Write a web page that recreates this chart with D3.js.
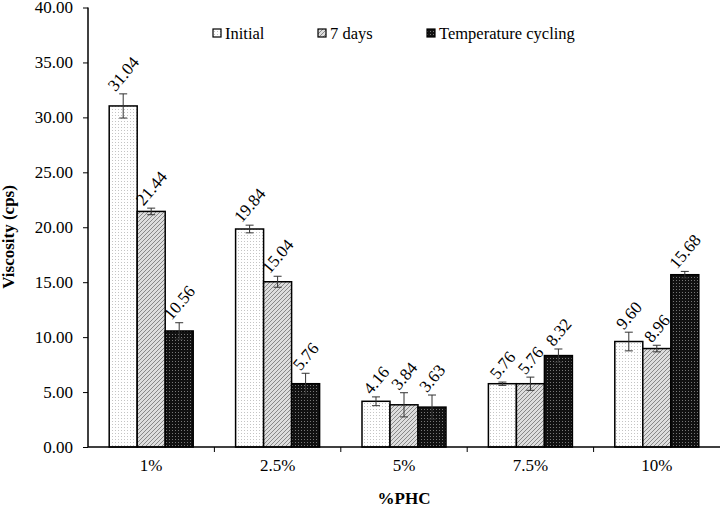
<!DOCTYPE html>
<html><head><meta charset="utf-8">
<script src="https://cdn.jsdelivr.net/npm/d3@7"></script>
<style>
body{margin:0;background:#fff;}
svg{display:block;}
</style></head>
<body><svg id="c" width="722" height="507"></svg>
<script>
const categories = ["1%", "2.5%", "5%", "7.5%", "10%"];
const seriesNames = ["Initial", "7 days", "Temperature cycling"];
const initialVals = [31.04, 19.84, 4.16, 5.76, 9.60];
const sevenDayVals = [21.44, 15.04, 3.84, 5.76, 8.96];
const tempCycVals = [10.56, 5.76, 3.63, 8.32, 15.68];
const initialErr = [1.1, 0.35, 0.4, 0.15, 0.85];
const sevenDayErr = [0.3, 0.5, 1.1, 0.6, 0.3];
const tempCycErr = [0.75, 0.95, 1.1, 0.6, 0.3];
const yTicks = [0, 5, 10, 15, 20, 25, 30, 35, 40];

const FONT = "Liberation Serif";
const svg = d3.select("#c").attr("font-family", FONT);
const m = {l: 88, r: 720, t: 7.5, b: 447};
const defs = svg.append("defs");
const p1 = defs.append("pattern").attr("id","pInit").attr("patternUnits","userSpaceOnUse").attr("width",3).attr("height",3);
p1.append("rect").attr("width",3).attr("height",3).attr("fill","#fff");
p1.append("rect").attr("x",1).attr("y",1).attr("width",1).attr("height",1).attr("fill","#c4c4c4");
const p2 = defs.append("pattern").attr("id","p7").attr("patternUnits","userSpaceOnUse").attr("width",4).attr("height",4);
p2.append("rect").attr("width",4).attr("height",4).attr("fill","#ddd");
p2.append("path").attr("d","M-1,1 l2,-2 M0,4 l4,-4 M3,5 l2,-2").attr("stroke","#888").attr("stroke-width",1);
const p3 = defs.append("pattern").attr("id","pTC").attr("patternUnits","userSpaceOnUse").attr("width",3).attr("height",3);
p3.append("rect").attr("width",3).attr("height",3).attr("fill","#111");
p3.append("rect").attr("x",1).attr("y",1).attr("width",1).attr("height",1).attr("fill","#777");
const fills = ["url(#pInit)","url(#p7)","url(#pTC)"];

const x = d3.scaleBand().domain(categories).range([m.l, m.r]).paddingInner(0).paddingOuter(0);
const xs = d3.scaleBand().domain(seriesNames).range([0, x.bandwidth()]).paddingInner(0).paddingOuter(0.757);
const y = d3.scaleLinear().domain([0, 40]).range([m.b, m.t]);

const vals = [initialVals, sevenDayVals, tempCycVals];
const errs = [initialErr, sevenDayErr, tempCycErr];
const data = [];
categories.forEach((c, i) => seriesNames.forEach((s, j) => data.push({c, s, j, v: vals[j][i], e: errs[j][i]})));

svg.append("g").selectAll("rect").data(data).join("rect")
  .attr("x", d => x(d.c) + xs(d.s))
  .attr("y", d => y(d.v))
  .attr("width", xs.bandwidth())
  .attr("height", d => y(0) - y(d.v))
  .attr("fill", d => fills[d.j])
  .attr("stroke", "#000").attr("stroke-width", 1.5);

const eg = svg.append("g").attr("stroke", "#333").attr("stroke-width", 1);
data.forEach(d => {
  const cx = x(d.c) + xs(d.s) + xs.bandwidth() / 2;
  eg.append("line").attr("x1", cx).attr("x2", cx).attr("y1", y(d.v - d.e)).attr("y2", y(d.v + d.e));
  [d.v - d.e, d.v + d.e].forEach(v => eg.append("line").attr("x1", cx - 4).attr("x2", cx + 4).attr("y1", y(v)).attr("y2", y(v)));
});

const ang = 50 * Math.PI / 180;
data.forEach(d => {
  const cx = x(d.c) + xs(d.s) + xs.bandwidth() / 2;
  const t = svg.append("text").attr("font-family", FONT).attr("font-size", 17).attr("text-anchor", "middle").attr("fill", "#000")
    .text(d.v.toFixed(2));
  const len = t.node().getComputedTextLength();
  const h = 11;
  const dy = (len * Math.sin(ang) + h * Math.cos(ang)) / 2 + 2;
  const cy = y(d.v + d.e) - dy;
  t.attr("transform", `translate(${cx},${cy}) rotate(-50)`).attr("dy", "0.35em");
});

const ya = svg.append("g").attr("transform", `translate(${m.l},0)`)
  .call(d3.axisLeft(y).tickValues(yTicks).tickSize(5).tickPadding(10).tickFormat(d3.format(".2f")))
  .attr("font-family", FONT);
ya.select(".domain").attr("stroke", "#000").attr("stroke-width", 1.5).attr("d", `M0,${m.t}V${m.b}`);
ya.selectAll(".tick line").attr("stroke", "#000");
ya.selectAll(".tick text").attr("font-family", FONT).attr("font-size", 17).attr("fill", "#000");

const xa = svg.append("g").attr("transform", `translate(0,${m.b})`)
  .call(d3.axisBottom(x).tickSize(0).tickPadding(12))
  .attr("font-family", FONT);
xa.select(".domain").attr("stroke", "#000").attr("stroke-width", 1.5).attr("d", `M${m.l},0H${m.r}`);
xa.selectAll(".tick text").attr("font-family", FONT).attr("font-size", 17).attr("fill", "#000");
svg.append("g").selectAll("line").data(categories.slice(1)).join("line")
  .attr("x1", d => x(d)).attr("x2", d => x(d)).attr("y1", m.b).attr("y2", m.b + 5).attr("stroke", "#000");

svg.append("text").attr("transform", "translate(14,237) rotate(-90)").attr("text-anchor", "middle")
  .attr("font-family", FONT).attr("font-size", 17).attr("font-weight", "bold").text("Viscosity (cps)");
svg.append("text").attr("x", 404).attr("y", 504).attr("text-anchor", "middle")
  .attr("font-family", FONT).attr("font-size", 17).attr("font-weight", "bold").text("%PHC");

const legX = [213, 318, 427];
const lg = svg.append("g");
seriesNames.forEach((s, j) => {
  lg.append("rect").attr("x", legX[j]).attr("y", 29).attr("width", 8).attr("height", 8)
    .attr("fill", fills[j]).attr("stroke", "#000").attr("stroke-width", 1.2);
  lg.append("text").attr("x", legX[j] + 12).attr("y", 39).attr("font-family", FONT).attr("font-size", 16.5).text(s);
});
</script></body></html>
